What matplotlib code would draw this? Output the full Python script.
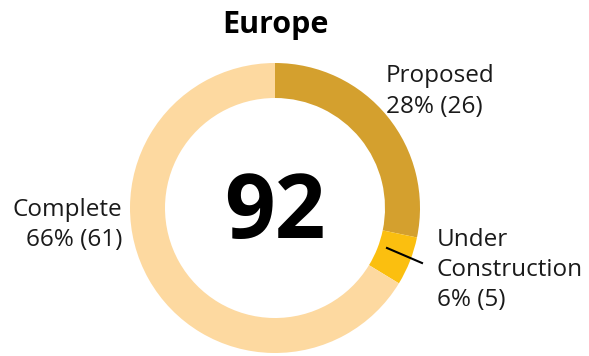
import matplotlib.pyplot as plt

plt.rcParams['font.family'] = ['Open Sans', 'DejaVu Sans']

region = 'Europe'
categories = ['Proposed', 'Under Construction', 'Complete']
counts = [26, 5, 61]
shares = [28, 6, 66]
colors = ['#D4A02E', '#FBBF0F', '#FDD9A0']

total = sum(counts)

W, H = 589, 356
fig = plt.figure(figsize=(W / 100, H / 100), dpi=100)
ax = fig.add_axes([0, 0, 1, 1])

cx, cy, r = 275, H - 208, 145
ax.pie(counts, colors=colors, startangle=90, counterclock=False,
       center=(cx, cy), radius=r, frame=True,
       wedgeprops=dict(width=35, linewidth=0))
ax.set_xlim(0, W)
ax.set_ylim(0, H)
ax.set_aspect('equal')
ax.axis('off')

ax.text(cx, cy - 7, str(total), ha='center', va='center',
        fontsize=64, fontweight='bold', color='black')
ax.text(cx, H - 25, region, ha='center', va='center',
        fontsize=22, fontweight='bold', color='black')


def label(x, ys, lines, ha):
    # one text per line so the spacing stays fixed in pixels
    for y, s in zip(ys, lines):
        ax.text(x, H - y, s, ha=ha, va='center', fontsize=17.5, color='#1a1a1a')


label(386, [76, 107], [categories[0], f'{shares[0]}% ({counts[0]})'], 'left')
label(122, [210, 240], [categories[2], f'{shares[2]}% ({counts[2]})'], 'right')
label(437, [240, 270, 300], ['Under', 'Construction', f'{shares[1]}% ({counts[1]})'], 'left')
ax.plot([387, 422], [H - 248, H - 263], color='black', linewidth=1.5)

fig.savefig('out.png', dpi=100)
